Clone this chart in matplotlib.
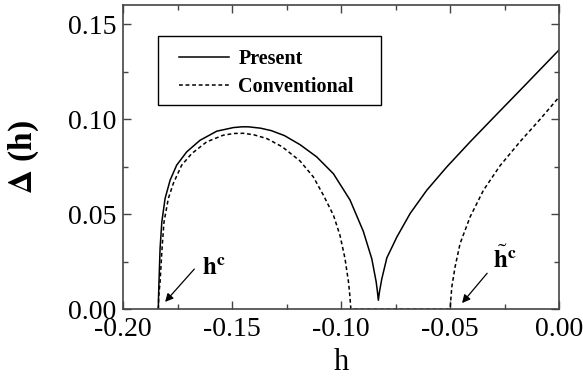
import matplotlib
matplotlib.use('Agg')
import matplotlib.pyplot as plt
from matplotlib.patches import Rectangle

plt.rcParams['font.family'] = ['Liberation Serif', 'DejaVu Serif']
plt.rcParams['mathtext.fontset'] = 'stix'
plt.rcParams['axes.unicode_minus'] = False

# Present curve
h_present = [-0.1838, -0.1837, -0.1835, -0.1830, -0.1822, -0.1807, -0.1784, -0.1754,
             -0.1708, -0.1647, -0.1570, -0.1494, -0.1455, -0.1425, -0.1370, -0.1320,
             -0.1260, -0.1188, -0.1112, -0.1035, -0.0959, -0.0898, -0.0859, -0.0839,
             -0.0833, -0.0829, -0.0824, -0.0813, -0.0790, -0.0744, -0.0683, -0.0607,
             -0.0515, -0.0408, -0.0286, -0.0164, -0.0080, 0.0]
d_present = [0.0, 0.0070, 0.0144, 0.0320, 0.0459, 0.0583, 0.0679, 0.0758,
             0.0828, 0.0889, 0.0937, 0.0956, 0.0960, 0.0960, 0.0953, 0.0940,
             0.0914, 0.0866, 0.0802, 0.0713, 0.0575, 0.0410, 0.0265, 0.0144,
             0.0090, 0.0047, 0.0090, 0.0160, 0.0270, 0.0380, 0.0504, 0.0626,
             0.0749, 0.0881, 0.1026, 0.1170, 0.1270, 0.1365]

# Conventional curve
h_conv = [-0.1838, -0.1836, -0.1830, -0.1821, -0.1812, -0.1792, -0.1769, -0.1731,
          -0.1685, -0.1616, -0.1540, -0.1490, -0.1448, -0.1400, -0.1340, -0.1270,
          -0.1188, -0.1127, -0.1081, -0.1035, -0.1005, -0.0982, -0.0966, -0.0960,
          -0.0955, -0.0750, -0.0500, -0.0496, -0.0492, -0.0477, -0.0454, -0.0408,
          -0.0347, -0.0271, -0.0179, -0.0087, 0.0]
d_conv = [0.0, 0.0070, 0.0144, 0.0320, 0.0459, 0.0583, 0.0663, 0.0758,
          0.0819, 0.0881, 0.0916, 0.0925, 0.0926, 0.0918, 0.0898, 0.0855,
          0.0780, 0.0696, 0.0600, 0.0495, 0.0389, 0.0267, 0.0144, 0.0075,
          0.0, 0.0, 0.0, 0.0060, 0.0117, 0.0223, 0.0346, 0.0486,
          0.0626, 0.0755, 0.0882, 0.1000, 0.1117]

fig = plt.figure(figsize=(5.83, 3.77), dpi=100)
ax = fig.add_axes([0.211, 0.18, 0.748, 0.806])

ax.plot(h_present, d_present, color='black', lw=1.1, label='Present')
ax.plot(h_conv, d_conv, color='black', lw=1.1, ls=(0, (2.5, 1.8)), label='Conventional')

ax.set_xlim(-0.20, 0.0)
ax.set_ylim(0.0, 0.16)
ax.set_xticks([-0.20, -0.15, -0.10, -0.05, 0.00])
ax.set_xticks([-0.175, -0.125, -0.075, -0.025], minor=True)
ax.set_yticks([0.00, 0.05, 0.10, 0.15])
ax.set_yticks([0.025, 0.075, 0.125], minor=True)
ax.set_xticklabels(['-0.20', '-0.15', '-0.10', '-0.05', '0.00'])
ax.set_yticklabels(['0.00', '0.05', '0.10', '0.15'])
ax.tick_params(which='both', direction='in', top=True, right=True, labelsize=20, color='#444444')
ax.tick_params(which='major', length=6, width=1.0)
ax.tick_params(which='minor', length=3.5, width=1.0)
ax.tick_params(axis='y', pad=5)
ax.tick_params(axis='x', pad=6)
for s in ax.spines.values():
    s.set_linewidth(1.2)
    s.set_color('#444444')

ax.set_xlabel('h', fontsize=22, labelpad=4)
ax.set_ylabel(r'$\mathbf{\Delta}$ (h)', fontsize=24, fontweight='bold', labelpad=19)

# legend with a plain rectangle frame
ax.add_patch(Rectangle((0.080, 0.671), 0.512, 0.227, transform=ax.transAxes,
                       fill=False, edgecolor='black', lw=1.0, zorder=5))
ax.legend(loc='upper left', bbox_to_anchor=(0.105, 0.89), frameon=False,
          prop={'weight': 'bold', 'size': 14.5}, handlelength=2.5, handletextpad=0.45,
          labelspacing=0.4, borderpad=0.5, borderaxespad=0.0)

# annotations
ax.annotate('', xy=(-0.1807, 0.0038), xytext=(-0.1673, 0.0211),
            arrowprops=dict(arrowstyle='-|>', color='black', lw=0.9,
                            mutation_scale=12, shrinkA=0, shrinkB=0))
ax.text(-0.1640, 0.0180, r'$\mathbf{h}^{\mathbf{c}}$', fontsize=18, ha='left', va='baseline')
ax.annotate('', xy=(-0.0445, 0.0032), xytext=(-0.0330, 0.0189),
            arrowprops=dict(arrowstyle='-|>', color='black', lw=0.9,
                            mutation_scale=12, shrinkA=0, shrinkB=0))
ax.text(-0.0303, 0.0215, r'$\tilde{\mathbf{h}}^{\mathbf{c}}$', fontsize=18, ha='left', va='baseline')

fig.savefig('out.png', dpi=100)
